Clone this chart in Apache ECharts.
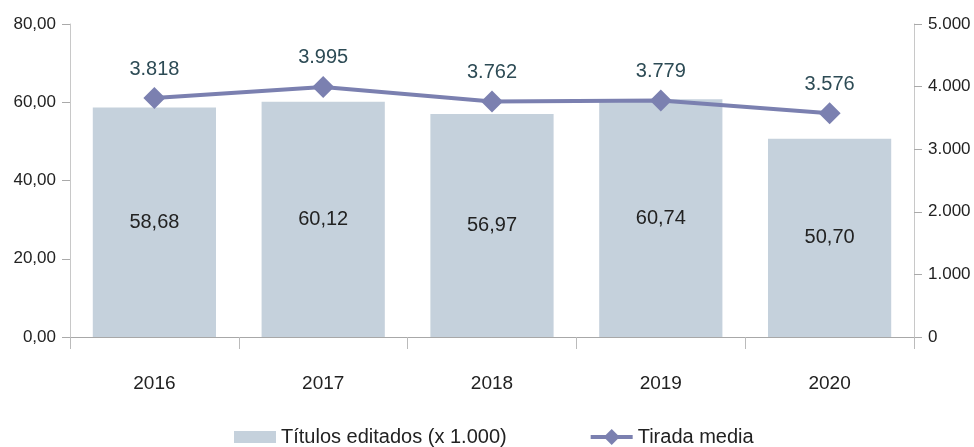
<!DOCTYPE html>
<html>
<head>
    <meta charset="utf-8">
    <title>ECharts</title>
    <script src="https://cdn.jsdelivr.net/npm/echarts@6/dist/echarts.min.js"></script>
    <style>
        html, body { margin: 0; padding: 0; background: #fff; }
    </style>
</head>
<body>
    <div id="main" style="width: 974px;height:447px;"></div>
    <script type="text/javascript">
        // datos
        var years = ['2016', '2017', '2018', '2019', '2020'];
        var titulos = [58.68, 60.12, 56.97, 60.74, 50.70];
        var tirada = [3818, 3995, 3762, 3779, 3576];

        // formato español
        function fmtDec(v) {
            return v.toFixed(2).replace('.', ',');
        }
        function fmtMil(v) {
            return String(Math.round(v)).replace(/\B(?=(\d{3})+(?!\d))/g, '.');
        }

        var font = 'Liberation Sans, Arial, sans-serif';
        var chart = echarts.init(document.getElementById('main'));
        var option = {
            backgroundColor: '#fff',
            animation: false,
            textStyle: { fontFamily: font },
            grid: { left: 70, right: 60, top: 24, bottom: 110 },
            legend: {
                bottom: 0,
                padding: 0,
                left: 234,
                itemGap: 82,
                itemWidth: 42,
                itemHeight: 20,
                textStyle: { fontSize: 20, color: '#222', fontFamily: font },
                data: [
                    { name: 'Títulos editados (x 1.000)', icon: 'path://M0,0L42,0L42,12L0,12Z' },
                    { name: 'Tirada media', lineStyle: { width: 4 } }
                ]
            },
            xAxis: {
                type: 'category',
                data: years,
                axisLine: { lineStyle: { color: '#a8a8a8', width: 1 } },
                axisTick: { show: true, length: 12, lineStyle: { color: '#bbb' } },
                axisLabel: { fontSize: 19, color: '#222', margin: 37 }
            },
            yAxis: [
                {
                    type: 'value',
                    min: 0, max: 80, interval: 20,
                    axisLine: { show: true, lineStyle: { color: '#c8c8c8' } },
                    axisTick: { show: true, length: 8, lineStyle: { color: '#aaa' } },
                    splitLine: { show: false },
                    axisLabel: { fontSize: 17, color: '#222', margin: 14, formatter: fmtDec }
                },
                {
                    type: 'value',
                    min: 0, max: 5000, interval: 1000,
                    axisLine: { show: true, lineStyle: { color: '#c8c8c8' } },
                    axisTick: { show: true, length: 8, lineStyle: { color: '#aaa' } },
                    splitLine: { show: false },
                    axisLabel: { fontSize: 17, color: '#222', margin: 14, formatter: fmtMil }
                }
            ],
            series: [
                {
                    name: 'Títulos editados (x 1.000)',
                    type: 'bar',
                    yAxisIndex: 0,
                    barCategoryGap: '27%',
                    itemStyle: { color: '#c5d1dc' },
                    label: {
                        show: true,
                        position: 'inside',
                        fontSize: 20,
                        color: '#222',
                        formatter: function (p) { return fmtDec(p.value); }
                    },
                    data: titulos
                },
                {
                    name: 'Tirada media',
                    type: 'line',
                    yAxisIndex: 1,
                    symbol: 'diamond',
                    symbolSize: 22,
                    lineStyle: { color: '#7b80b0', width: 4 },
                    itemStyle: { color: '#7b80b0' },
                    label: {
                        show: true,
                        position: 'top',
                        distance: 8,
                        fontSize: 20,
                        color: '#2d4b55',
                        formatter: function (p) { return fmtMil(p.value); }
                    },
                    data: tirada
                }
            ]
        };
        chart.setOption(option);
    </script>
</body>
</html>
